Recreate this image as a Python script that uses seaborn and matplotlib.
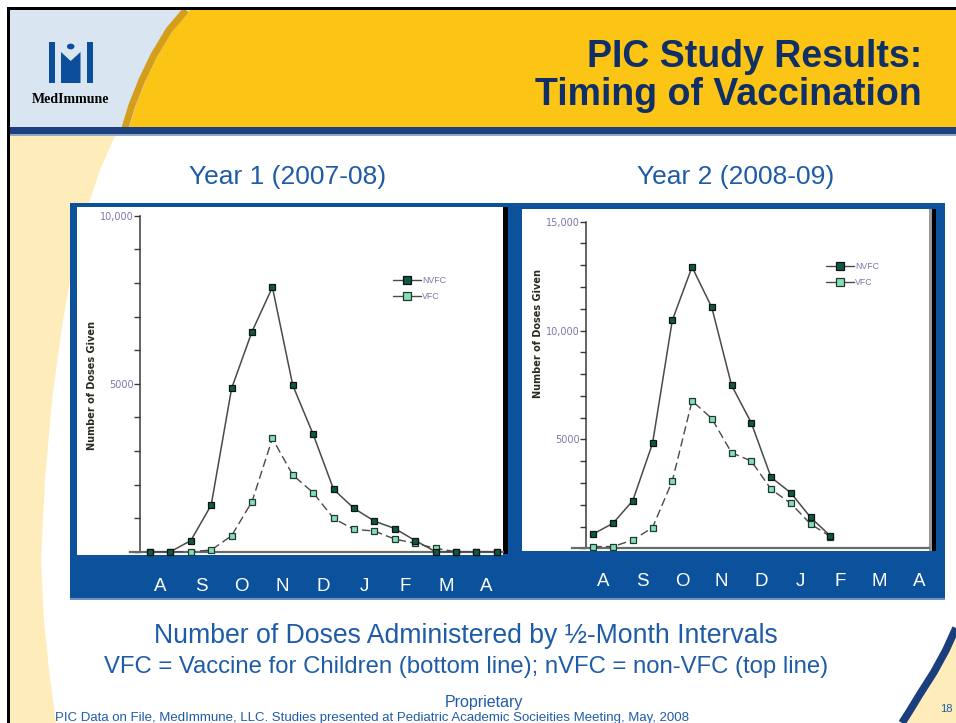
import numpy as np
import pandas as pd
import matplotlib
matplotlib.use("Agg")
import matplotlib.pyplot as plt
import seaborn as sns
from matplotlib.patches import Rectangle, Polygon, Circle
from matplotlib.lines import Line2D

# ---------------- data ----------------
slots = list(range(18))                       # half-month intervals, Aug .. Apr
month_labels = ["A", "S", "O", "N", "D", "J", "F", "M", "A"]
month_pos = [0.5, 2.5, 4.5, 6.5, 8.5, 10.5, 12.5, 14.5, 16.5]

y1_nvfc = [0, 0, 330, 1390, 4860, 6550, 7870, 4950, 3490, 1855, 1290, 910, 690, 330, 0, 0, 0, 0]
y1_vfc = [0, 0, 0, 50, 475, 1490, 3370, 2280, 1755, 990, 665, 615, 375, 250, 100, 0, 0, 0]

y2_nvfc = [660, 1150, 2190, 4820, 10470, 12920, 11060, 7490, 5760, 3260, 2550, 1420, 570]
y2_vfc = [80, 80, 380, 950, 3090, 6770, 5960, 4390, 4010, 2710, 2060, 1120, 540]

series_names = ["NVFC", "VFC"]

# ---------------- figure ----------------
W, H = 956, 723
sns.set_theme(style="white")
plt.rcParams["font.family"] = ["Liberation Sans", "DejaVu Sans"]

fig = plt.figure(figsize=(W / 100, H / 100), dpi=100)
fig.patch.set_facecolor("white")


def X(x):
    return x / W


def Y(y):
    return 1 - y / H


def rect(x0, y0, x1, y1, color, z=1):
    fig.patches.append(Rectangle((X(x0), Y(y1)), (x1 - x0) / W, (y1 - y0) / H,
                                 transform=fig.transFigure, facecolor=color,
                                 edgecolor="none", zorder=z))


def poly(pts, color, z=1):
    fig.patches.append(Polygon([(X(a), Y(b)) for a, b in pts], closed=True,
                               transform=fig.transFigure, facecolor=color,
                               edgecolor="none", zorder=z))


def pline(pts, color, lw, z=1):
    fig.lines.append(Line2D([X(a) for a, b in pts], [Y(b) for a, b in pts],
                            transform=fig.transFigure, color=color, lw=lw,
                            zorder=z, solid_capstyle="butt"))


# slide frame
rect(7, 7, 956, 10, "black", 3)
rect(7, 7, 10, 723, "black", 3)

# header
rect(10, 10, 956, 128, "#D9E5F1", 1)
bound = [(190, 10), (173, 30), (158, 55), (146, 80), (136, 105), (129, 128)]
poly(bound + [(956, 128), (956, 10)], "#FCC516", 1.1)
pline([(a - 4, b) for a, b in bound], "#D49E1C", 5, 1.2)
rect(10, 127, 956, 134, "#1C3F7E", 1.3)
rect(10, 134, 956, 136, "#8EA9CB", 1.3)

# pale yellow decorative strip on the left
poly([(10, 136), (115, 136), (100, 170), (90, 200), (76, 250), (63, 320), (52, 400),
      (45, 480), (41, 560), (44, 620), (49, 670), (56, 723), (10, 723)], "#FEEDBA", 1)

# bottom right arc
arc = [(956, 628), (946, 650), (934, 672), (920, 694), (909, 712), (902, 723)]
poly(arc + [(956, 723)], "#FEEDBA", 1)
pline(arc, "#1A3E7E", 5.5, 1.2)

# logo
logo_c = "#0D4E9C"
rect(49, 42, 55, 83, logo_c, 2)
rect(87, 42, 93, 83, logo_c, 2)
poly([(61, 52), (70.7, 61), (80.5, 52), (80.5, 83), (61, 83)], logo_c, 2)
fig.patches.append(Circle((X(70.7), Y(46.5)), 3.8 / W, transform=fig.transFigure,
                          facecolor=logo_c, edgecolor="none", zorder=2))
fig.text(X(71), Y(103), "MedImmune", ha="center", va="baseline", fontsize=10,
         fontweight="bold", family=["Liberation Serif", "DejaVu Serif"], color="black", zorder=5)

# header title
title_font = ["Liberation Sans Narrow", "Liberation Sans", "DejaVu Sans"]
fig.text(X(922), Y(67), "PIC Study Results:", ha="right", va="baseline", fontsize=27,
         fontweight="bold", color="#0F2F66", family=title_font, zorder=5)
fig.text(X(922), Y(105), "Timing of Vaccination", ha="right", va="baseline", fontsize=27,
         fontweight="bold", color="#0F2F66", family=title_font, zorder=5)

# year titles
txt_blue = "#1F5CA8"
fig.text(X(287.5), Y(184), "Year 1 (2007-08)", ha="center", va="baseline", fontsize=19,
         color=txt_blue, zorder=5)
fig.text(X(735.5), Y(184), "Year 2 (2008-09)", ha="center", va="baseline", fontsize=19,
         color=txt_blue, zorder=5)

# blue chart box and shadows
rect(70, 203, 945, 599, "#0B519C", 2)
rect(70, 598, 945, 600, "#6E95C6", 2.1)
rect(503, 207, 508, 554, "black", 2.2)
rect(929, 209, 932, 551, "#9A9A9A", 2.2)
rect(932, 209, 936, 551, "black", 2.2)

# bottom texts
fig.text(X(465.5), Y(643), "Number of Doses Administered by \u00bd-Month Intervals", ha="center",
         va="baseline", fontsize=19.2, color=txt_blue, zorder=5)
fig.text(X(466.5), Y(673), "VFC = Vaccine for Children (bottom line); nVFC = non-VFC (top line)",
         ha="center", va="baseline", fontsize=17.2, color=txt_blue, zorder=5)
fig.text(X(484), Y(706.5), "Proprietary", ha="center", va="baseline", fontsize=11.5,
         color=txt_blue, zorder=5)
fig.text(X(55), Y(720.5), "PIC Data on File, MedImmune, LLC. Studies presented at Pediatric Academic "
         "Socieities Meeting, May, 2008", ha="left", va="baseline", fontsize=9.5,
         color=txt_blue, zorder=5)
fig.text(X(946), Y(712), "18", ha="center", va="baseline", fontsize=8, color=txt_blue, zorder=5)

# ---------------- charts ----------------
NV_FACE, NV_EDGE = "#0B5A48", "#101010"
V_FACE, V_EDGE = "#86DDB6", "#1E3A2E"
LINE_C = "#4a4a4a"
TICK_LABEL_C = "#7E76AA"


def draw_chart(rect_px, x0_px, dx_px, y0_px, ppu, axis_x_px, base_x0_px, ymax,
               nv, vf, legend_xy, ylab_xy):
    l, t, r, b = rect_px
    ax = fig.add_axes([X(l), Y(b), (r - l) / W, (b - t) / H])
    ax.set_zorder(4)
    ax.set_facecolor("white")
    ax.set_xlim((l - x0_px) / dx_px, (r - x0_px) / dx_px)
    ax.set_ylim((y0_px - b) / ppu, (y0_px - t) / ppu)

    df_n = pd.DataFrame({"slot": slots[:len(nv)], "doses": nv})
    df_v = pd.DataFrame({"slot": slots[:len(vf)], "doses": vf})
    sns.lineplot(data=df_v, x="slot", y="doses", ax=ax, color=LINE_C, lw=1.0,
                 linestyle=(0, (6, 3)), marker="s", markersize=5,
                 markerfacecolor=V_FACE, markeredgecolor=V_EDGE, markeredgewidth=0.9,
                 zorder=3, clip_on=False)
    sns.lineplot(data=df_n, x="slot", y="doses", ax=ax, color=LINE_C, lw=1.1,
                 marker="s", markersize=5,
                 markerfacecolor=NV_FACE, markeredgecolor=NV_EDGE, markeredgewidth=0.9,
                 zorder=4, clip_on=False)

    for s in ["top", "right"]:
        ax.spines[s].set_visible(False)
    ax.spines["left"].set_position(("data", (axis_x_px - x0_px) / dx_px))
    ax.spines["left"].set_bounds(0, ymax)
    ax.spines["left"].set_color("#3a3a3a")
    ax.spines["left"].set_linewidth(1.1)
    ax.spines["bottom"].set_position(("data", 0))
    ax.spines["bottom"].set_bounds((base_x0_px - x0_px) / dx_px, (r - x0_px) / dx_px)
    ax.spines["bottom"].set_color("#6a6a6a")
    ax.spines["bottom"].set_linewidth(1.6)

    yt = np.arange(0, ymax + 1, 1000)
    ylabels = []
    for v in yt:
        if v == 5000:
            ylabels.append("5000")
        elif v > 0 and v % 5000 == 0:
            ylabels.append(f"{int(v):,}")
        else:
            ylabels.append("")
    ax.set_yticks(yt, ylabels)
    ax.tick_params(axis="y", left=True, direction="out", length=4, width=1.0,
                   color="#3a3a3a", labelsize=7, labelcolor=TICK_LABEL_C, pad=0.5)
    for lab in ax.get_yticklabels():
        lab.set_family("DejaVu Sans")

    ax.set_xticks(month_pos, month_labels)
    cap_top = 578 if ymax == 10000 else 573
    pad_pt = (cap_top - y0_px) * 72 / 100
    ax.tick_params(axis="x", bottom=False, length=0, labelsize=13.5,
                   labelcolor="white", pad=pad_pt)
    ax.set_xlabel("")
    ax.set_ylabel("Number of Doses Given", fontsize=7, fontweight="bold",
                  color="#2a2a1e", family="DejaVu Sans")
    ax.yaxis.set_label_coords((ylab_xy[0] - l) / (r - l), (b - ylab_xy[1]) / (b - t))
    ax.yaxis.label.set_verticalalignment("center")

    handles = [
        Line2D([], [], color=LINE_C, lw=1.0, marker="s", markersize=6,
               markerfacecolor=NV_FACE, markeredgecolor=NV_EDGE, markeredgewidth=0.9),
        Line2D([], [], color=LINE_C, lw=1.0, marker="s", markersize=6,
               markerfacecolor=V_FACE, markeredgecolor=V_EDGE, markeredgewidth=0.9),
    ]
    ax.legend(handles, series_names, loc="center left",
              bbox_to_anchor=(X(legend_xy[0]), Y(legend_xy[1])),
              bbox_transform=fig.transFigure, frameon=False, fontsize=6.3,
              handlelength=3.2, handletextpad=0.15, labelspacing=0.9,
              borderpad=0, borderaxespad=0, labelcolor=TICK_LABEL_C)
    return ax


# Year 1
draw_chart(rect_px=(77, 207, 503, 555), x0_px=150, dx_px=20.4, y0_px=551.7,
           ppu=336 / 10000, axis_x_px=140, base_x0_px=130, ymax=10000,
           nv=y1_nvfc, vf=y1_vfc, legend_xy=(393, 288.5), ylab_xy=(92, 385))
# Year 2
draw_chart(rect_px=(522, 209, 929, 551), x0_px=593.3, dx_px=19.75, y0_px=548.3,
           ppu=326.6 / 15000, axis_x_px=586, base_x0_px=572, ymax=15000,
           nv=y2_nvfc, vf=y2_vfc, legend_xy=(826, 274.5), ylab_xy=(538, 333))

fig.savefig("out.png", dpi=100)
